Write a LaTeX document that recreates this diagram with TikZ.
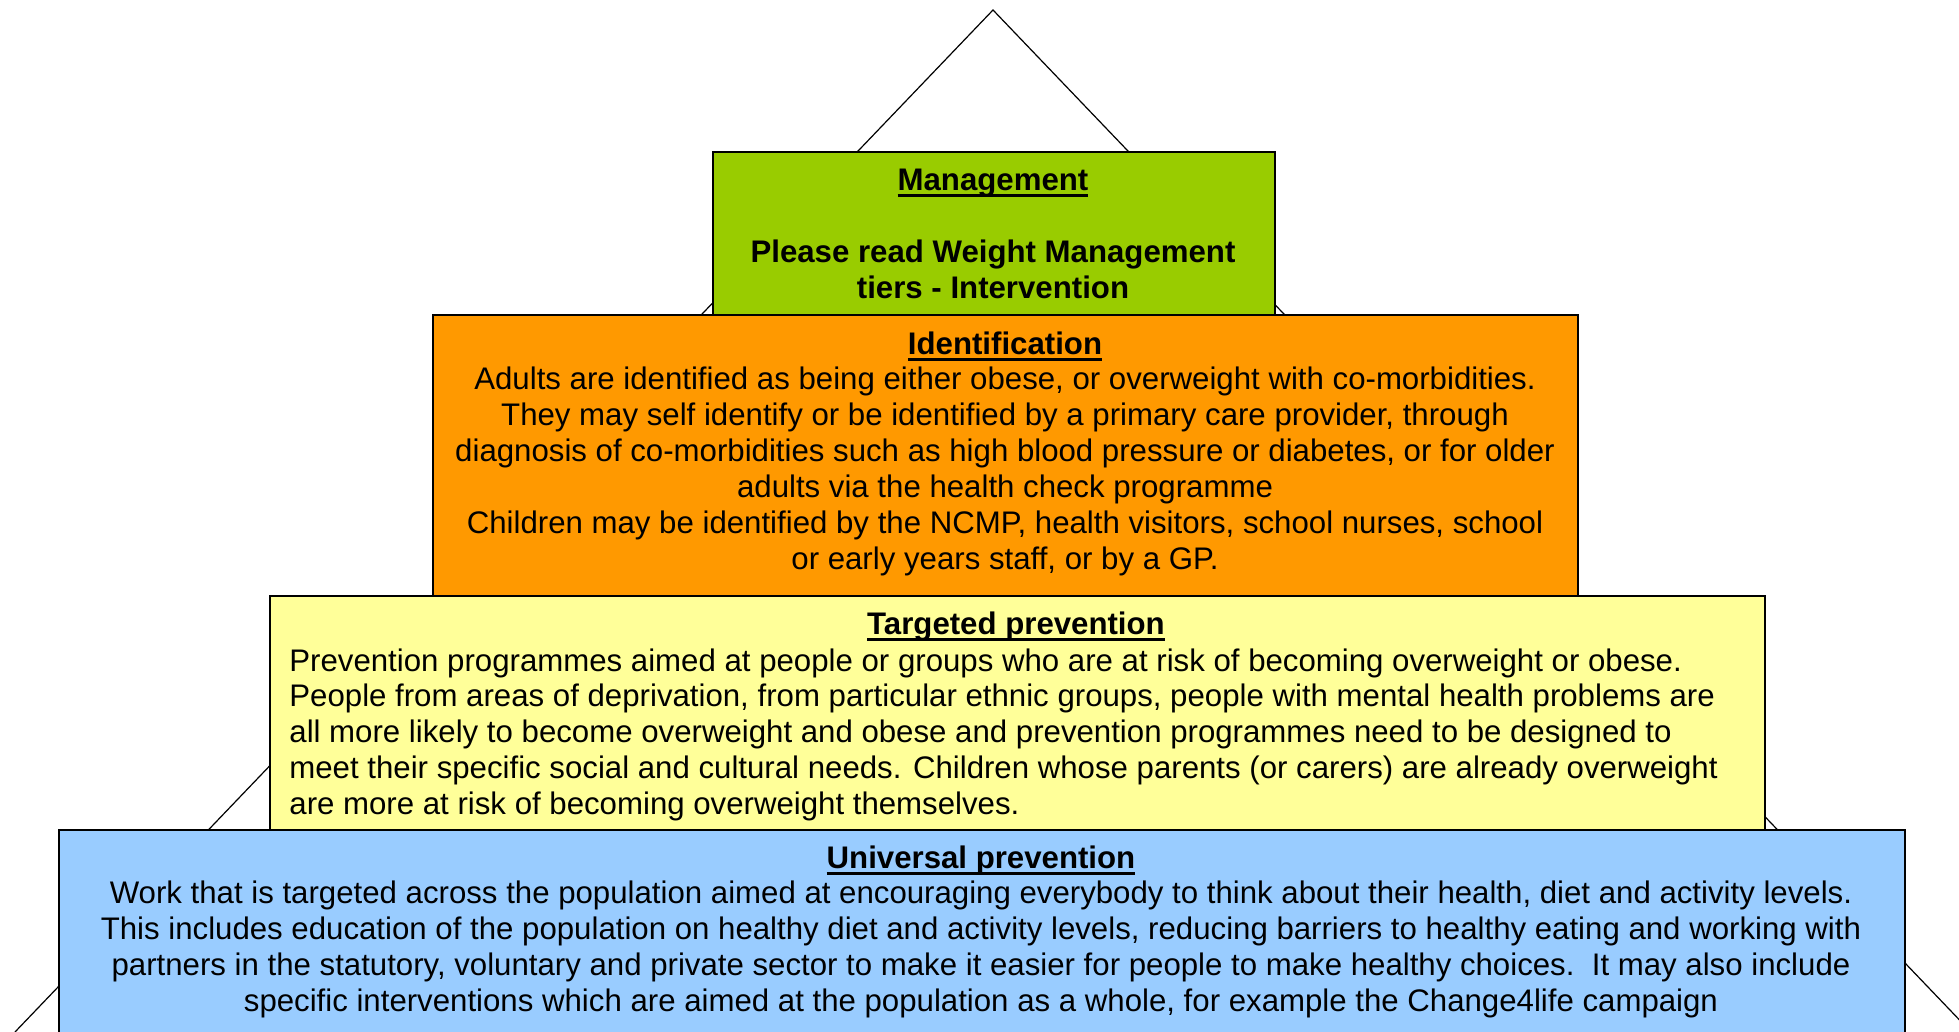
\documentclass[tikz,border=0pt]{standalone}
\usepackage{fontspec}
\setmainfont{Liberation Sans}
\usetikzlibrary{positioning}
\definecolor{Mgmt}{RGB}{153,204,0}
\definecolor{Ident}{RGB}{255,153,0}
\definecolor{Target}{RGB}{255,255,153}
\definecolor{Univ}{RGB}{153,204,255}
\newsavebox{\tierbox}
\newcommand*{\tiertitle}[1]{\sbox{\tierbox}{\textbf{#1}}\rlap{\rule[-3.25pt]{\wd\tierbox}{1.5pt}}\usebox{\tierbox}}

\begin{document}
\begin{tikzpicture}[x=0.5pt,y=-0.5pt,
	tier/.style={draw=black,line width=0.8pt,anchor=north west,inner sep=0pt},
	tiertext/.style={anchor=north,inner sep=0pt,align=center,font=\fontsize{15.6pt}{17.95pt}\selectfont}]
\useasboundingbox (0,0) rectangle (1959,1032);
\clip (0,0) rectangle (1959,1032);

% pyramid outline
\draw[line width=0.6pt] (15,1032)--(993,10)--(1971,1032);

% tiers, top to bottom
\node[tier,fill=Mgmt,minimum width=281pt,minimum height=81.5pt] (mgmt) at (712,151) {};
\node[tier,fill=Ident,minimum width=572.5pt,minimum height=140.5pt] (ident) at (432,314) {};
\node[tier,fill=Target,minimum width=747.5pt,minimum height=117pt] (target) at (269,595) {};
\node[tier,fill=Univ,minimum width=923pt,minimum height=135.5pt] (univ) at (58,829) {};

% texts
\node[tiertext,font=\fontsize{15.6pt}{17.95pt}\selectfont\bfseries] (mgmttext) at (993,169)
	{\tiertitle{Management}\\[17.95pt]
	Please read Weight Management\\
	tiers - Intervention};

\node[tiertext] (identtext) at (1005,331)
	{\tiertitle{Identification}\\
	Adults are identified as being either obese, or overweight with co-morbidities.\\
	They may self identify or be identified by a primary care provider, through\\
	diagnosis of co-morbidities such as high blood pressure or diabetes, or for older\\
	adults via the health check programme\\
	Children may be identified by the NCMP, health visitors, school nurses, school\\
	or early years staff, or by a GP.};

\node[tiertext] (targettitle) at (1016,611) {\tiertitle{Targeted prevention}};
\node[tiertext,anchor=north west,align=left] (targettext) at (289,648)
	{Prevention programmes aimed at people or groups who are at risk of becoming overweight or obese.\\
	People from areas of deprivation, from particular ethnic groups, people with mental health problems are\\
	all more likely to become overweight and obese and prevention programmes need to be designed to\\
	meet their specific social and cultural needs. Children whose parents (or carers) are already overweight\\
	are more at risk of becoming overweight themselves.};

\node[tiertext] (univtext) at (981,845)
	{\tiertitle{Universal prevention}\\
	Work that is targeted across the population aimed at encouraging everybody to think about their health, diet and activity levels.\\
	This includes education of the population on healthy diet and activity levels, reducing barriers to healthy eating and working with\\
	partners in the statutory, voluntary and private sector to make it easier for people to make healthy choices.\ \ It may also include\\
	specific interventions which are aimed at the population as a whole, for example the Change4life campaign};
\end{tikzpicture}
\end{document}
